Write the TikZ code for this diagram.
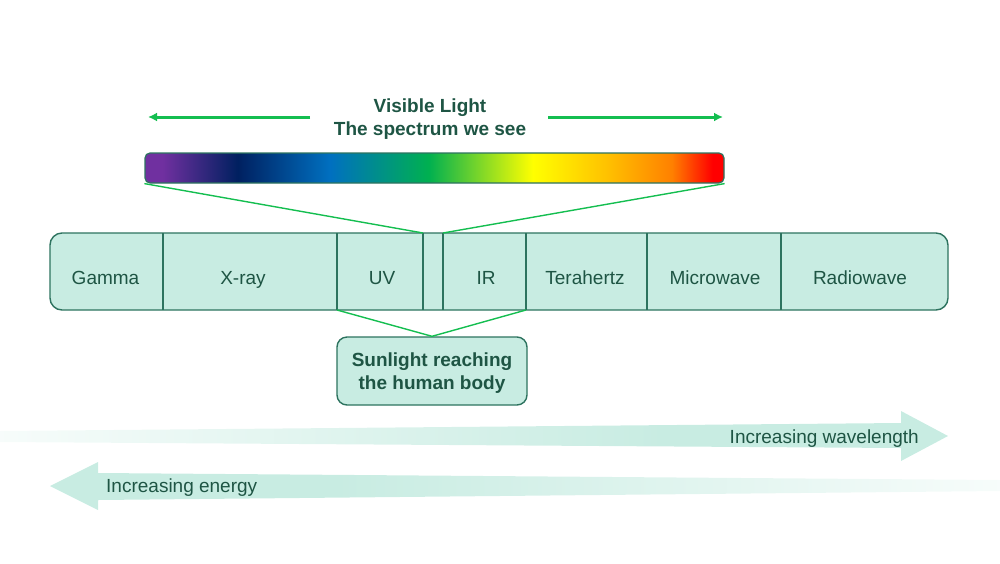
\documentclass[tikz,border=0pt]{standalone}
\usepackage{fontspec}
\setmainfont{Liberation Sans}
\usetikzlibrary{arrows.meta}
\definecolor{mint}{RGB}{200,236,226}
\definecolor{edge}{RGB}{45,115,95}
\definecolor{ink}{RGB}{30,85,68}
\definecolor{lgreen}{RGB}{20,190,80}
\definecolor{spP}{RGB}{112,48,160}
\definecolor{spN}{RGB}{0,32,96}
\definecolor{spB}{RGB}{0,112,192}
\definecolor{spG}{RGB}{0,176,80}
\definecolor{spY}{RGB}{255,255,0}
\definecolor{spO}{RGB}{255,192,0}
\definecolor{spQ}{RGB}{255,128,0}
\definecolor{spR}{RGB}{255,0,0}
\colorlet{fadeA}{mint!15!white}
\pgfdeclarehorizontalshading{spectrum}{100bp}{color(0bp)=(spP); color(26.5bp)=(spP); color(33bp)=(spN); color(41bp)=(spB); color(49.5bp)=(spG); color(58.5bp)=(spY); color(65bp)=(spO); color(70.5bp)=(spQ); color(74bp)=(spR); color(100bp)=(spR)}
\pgfdeclarehorizontalshading{fadeR}{100bp}{color(0bp)=(fadeA); color(25bp)=(fadeA); color(60bp)=(mint); color(100bp)=(mint)}
\pgfdeclarehorizontalshading{fadeL}{100bp}{color(0bp)=(mint); color(40bp)=(mint); color(75bp)=(fadeA); color(100bp)=(fadeA)}
\tikzset{
  lbl/.style={font=\fontsize{19}{22}\selectfont, text=ink, inner sep=0pt, anchor=base},
  blbl/.style={font=\fontsize{19}{23}\selectfont\bfseries, text=ink, inner sep=0pt, align=center},
  outline/.style={draw=edge, line width=1.4pt},
  conn/.style={draw=lgreen, line width=1.4pt},
  toparrow/.style={draw=lgreen, line width=3pt, -{Latex[length=9pt,width=9pt]}},
}
\begin{document}
\begin{tikzpicture}[x=1pt,y=-1pt]
\useasboundingbox (0,0) rectangle (1000,563);
% title
\node[blbl] (title) at (430,119) {Visible Light\\The spectrum we see};
\coordinate (la0) at (310,117);
\coordinate (la1) at (148,117);
\coordinate (ra0) at (548,117);
\coordinate (ra1) at (723,117);
\draw[toparrow] (la0) -- (la1);
\draw[toparrow] (ra0) -- (ra1);
% spectrum bar
\path[shading=spectrum, rounded corners=5pt] (145,153) rectangle (724,183);
\node[draw=edge, line width=1.2pt, rounded corners=5pt, minimum width=579pt, minimum height=30pt, inner sep=0pt] (spec) at (434.5,168) {};
% main bar
\node[outline, fill=mint, rounded corners=12pt, minimum width=898pt, minimum height=77pt, inner sep=0pt] (bar) at (499,271.5) {};
\foreach \x in {163,337,423,443,526,647,781}{
  \draw[edge, line width=1.4pt] (\x,233) -- (\x,310);
}
\coordinate (uvL) at (337,310);
\coordinate (irR) at (526,310);
\coordinate (visL) at (423,233);
\coordinate (visR) at (443,233);
\node[lbl] (gamma) at (105.5,284) {Gamma};
\node[lbl] (xray) at (243,284) {X-ray};
\node[lbl] (uv) at (382,284) {UV};
\node[lbl] (ir) at (486,284) {IR};
\node[lbl] (thz) at (585,284) {Terahertz};
\node[lbl] (micro) at (715,284) {Microwave};
\node[lbl] (radio) at (860,284) {Radiowave};
% connectors
\draw[conn] (spec.south west) -- (visL);
\draw[conn] (spec.south east) -- (visR);
% sunlight box
\node[outline, fill=mint, rounded corners=10pt, minimum width=190pt, minimum height=68pt, inner sep=0pt] (sun) at (432,371) {};
\node[blbl] (suntxt) at (432,373.5) {Sunlight reaching\\the human body};
\draw[conn] (uvL) -- (sun.north);
\draw[conn] (irR) -- (sun.north);
% bottom arrows
\path[shading=fadeR] (0,431) -- (901,423) -- (901,411) -- (948,436) -- (901,461) -- (901,448) -- (0,442) -- cycle;
\node[lbl, anchor=base east] (wave) at (919,443.5) {Increasing wavelength};
\path[shading=fadeL] (1000,480) -- (98,473) -- (98,462) -- (50,486) -- (98,510) -- (98,500) -- (1000,491) -- cycle;
\node[lbl, anchor=base west] (energy) at (106,492.5) {Increasing energy};
\end{tikzpicture}
\end{document}
